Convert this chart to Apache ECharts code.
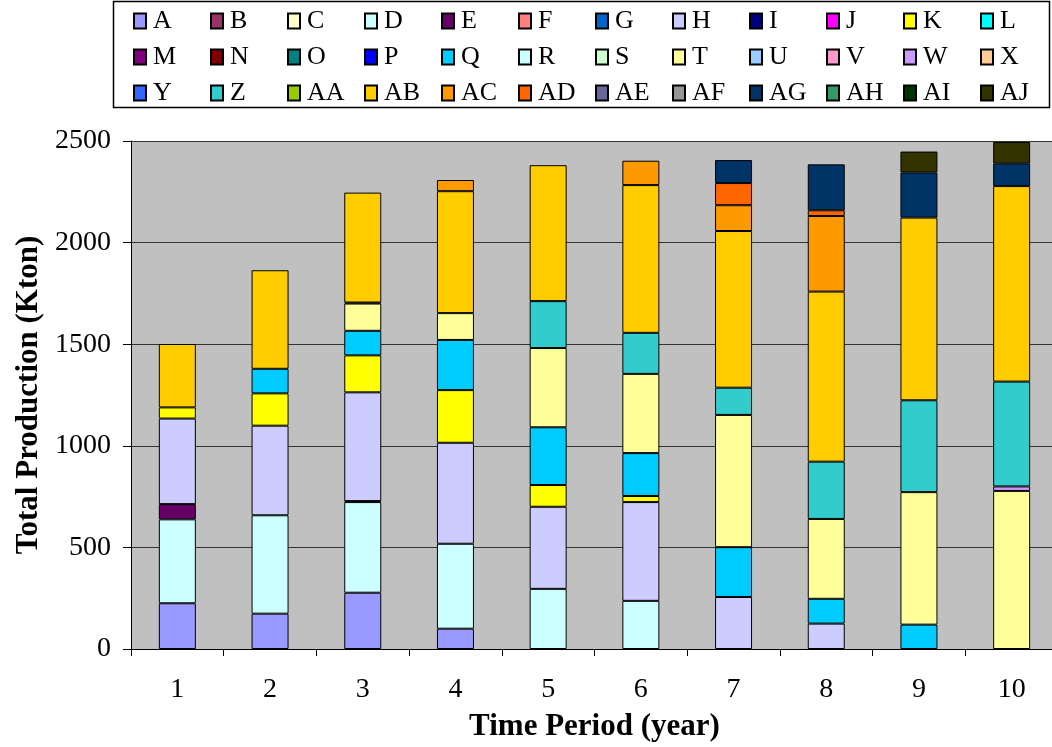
<!DOCTYPE html>
<html>
<head>
<meta charset="utf-8">
<script src="https://cdn.jsdelivr.net/npm/echarts@6/dist/echarts.min.js"></script>
<style>
  html, body { margin: 0; padding: 0; background: #fff; }
  #chart { width: 1052px; height: 747px; }
</style>
</head>
<body>
<div id="chart"></div>
<script>
// Time periods on the x axis
const periods = ['1', '2', '3', '4', '5', '6', '7', '8', '9', '10'];
const yTicks = [0, 500, 1000, 1500, 2000, 2500];

// Production per source (Kton) for each period; null = not produced
const _ = null;
const A  = [225, 174, 277, 100, _, _, _, _, _, _];
const B  = [_, _, _, _, _, _, _, _, _, _];
const C  = [_, _, _, _, _, _, _, _, _, _];
const D  = [413, 484, 446, 418, 296, 237, _, _, _, _];
const E  = [75, _, 5, _, _, _, _, _, _, _];
const F  = [_, _, _, _, _, _, _, _, _, _];
const G  = [_, _, _, _, _, _, _, _, _, _];
const H  = [421, 441, 535, 497, 404, 486, 256, 125, _, _];
const I  = [_, _, _, _, _, _, _, _, _, _];
const J  = [_, _, _, _, _, _, _, _, _, _];
const K  = [55, 159, 182, 259, 107, 30, _, _, _, _];
const L  = [_, _, _, _, _, _, _, _, _, _];
const M  = [_, _, _, _, _, _, _, _, _, _];
const N  = [_, _, _, _, _, _, _, _, _, _];
const O  = [_, _, _, _, _, _, _, _, _, _];
const P  = [_, _, _, _, _, _, _, _, _, _];
const Q  = [_, 121, 121, 247, 284, 211, 245, 122, 120, _];
const R  = [_, _, _, _, _, _, _, _, _, _];
const S  = [_, _, _, _, _, _, _, _, _, _];
const T  = [_, _, 134, 132, 390, 390, 651, 393, 652, 778];
const U  = [_, _, _, _, _, _, _, _, _, _];
const V  = [_, _, _, _, _, _, _, _, _, _];
const W  = [_, _, _, _, _, _, _, _, _, 22];
const X  = [_, _, _, _, _, _, _, _, _, _];
const Y  = [_, _, _, _, _, _, _, _, _, _];
const Z  = [_, _, 5, _, 231, 202, 134, 282, 452, 516];
const AA = [_, _, _, _, _, _, _, _, _, _];
const AB = [312, 485, 541, 600, 669, 727, 771, 837, 899, 962];
const AC = [_, _, _, 55, _, 120, 127, 372, _, _];
const AD = [_, _, _, _, _, _, 109, 28, _, _];
const AE = [_, _, _, _, _, _, _, _, _, _];
const AF = [_, _, _, _, _, _, _, _, _, _];
const AG = [_, _, _, _, _, _, 113, 226, 222, 112];
const AH = [_, _, _, _, _, _, _, _, _, _];
const AI = [_, _, _, _, _, _, _, _, _, _];
const AJ = [_, _, _, _, _, _, _, _, 103, 105];

const seriesNames = ['A','B','C','D','E','F','G','H','I','J','K','L',
  'M','N','O','P','Q','R','S','T','U','V','W','X',
  'Y','Z','AA','AB','AC','AD','AE','AF','AG','AH','AI','AJ'];
const seriesValues = [A,B,C,D,E,F,G,H,I,J,K,L,M,N,O,P,Q,R,S,T,U,V,W,X,
  Y,Z,AA,AB,AC,AD,AE,AF,AG,AH,AI,AJ];
const seriesColors = ['#9999FF','#993366','#FFFFCC','#CCFFFF','#660066','#FF8080',
  '#0066CC','#CCCCFF','#000080','#FF00FF','#FFFF00','#00FFFF',
  '#800080','#800000','#008080','#0000FF','#00CCFF','#CCFFFF',
  '#CCFFCC','#FFFF99','#99CCFF','#FF99CC','#CC99FF','#FFCC99',
  '#3366FF','#33CCCC','#99CC00','#FFCC00','#FF9900','#FF6600',
  '#666699','#969696','#003366','#339966','#003300','#333300'];

const FONT = '"Liberation Serif", "Times New Roman", serif';

const chart = echarts.init(document.getElementById('chart'), null, { renderer: 'canvas' });

chart.setOption({
  animation: false,
  backgroundColor: '#ffffff',
  textStyle: { fontFamily: FONT, color: '#000' },
  graphic: [{
    type: 'rect',
    shape: { x: 113.5, y: 1.5, width: 936, height: 106 },
    style: { fill: 'none', stroke: '#000', lineWidth: 1.5 },
    z: 10
  }],
  legend: {
    data: seriesNames,
    left: 133,
    top: 8,
    width: 918,
    padding: 0,
    itemWidth: 12,
    itemHeight: 15,
    itemGap: 10,
    icon: 'rect',
    textStyle: {
      fontFamily: FONT, fontSize: 26, color: '#000',
      width: 47, lineHeight: 26, padding: [0, 0, 0, 2]
    }
  },
  grid: {
    show: true,
    left: 131,
    top: 141,
    width: 927,
    height: 508,
    backgroundColor: '#C0C0C0',
    borderWidth: 0,
    containLabel: false,
    outerBoundsMode: 'none'
  },
  xAxis: {
    type: 'category',
    data: periods,
    name: 'Time Period (year)',
    nameLocation: 'middle',
    nameGap: 62,
    nameTextStyle: { fontFamily: FONT, fontSize: 31, fontWeight: 'bold', color: '#000' },
    axisLine: { show: true, lineStyle: { color: '#000', width: 1 } },
    axisTick: { show: true, length: 7, lineStyle: { color: '#000' } },
    axisLabel: { fontFamily: FONT, fontSize: 28, color: '#000', margin: 27 },
    splitLine: { show: false }
  },
  yAxis: {
    type: 'value',
    min: yTicks[0],
    max: yTicks[yTicks.length - 1],
    interval: yTicks[1] - yTicks[0],
    name: 'Total Production (Kton)',
    nameLocation: 'middle',
    nameGap: 84,
    nameRotate: 90,
    nameTextStyle: { fontFamily: FONT, fontSize: 31, fontWeight: 'bold', color: '#000' },
    axisLine: { show: true, lineStyle: { color: '#000', width: 1 } },
    axisTick: { show: true, length: 8, lineStyle: { color: '#000' } },
    axisLabel: {
      fontFamily: FONT, fontSize: 28, color: '#000', margin: 20,
      formatter: (v) => String(v)
    },
    splitLine: { show: true, lineStyle: { color: '#333', width: 1 } }
  },
  series: seriesNames.map((name, i) => ({
    name: name,
    type: 'bar',
    stack: 'total',
    barWidth: 37,
    data: seriesValues[i],
    itemStyle: { color: seriesColors[i], borderColor: '#000', borderWidth: 1 },
    emphasis: { disabled: true }
  }))
});
</script>
</body>
</html>
